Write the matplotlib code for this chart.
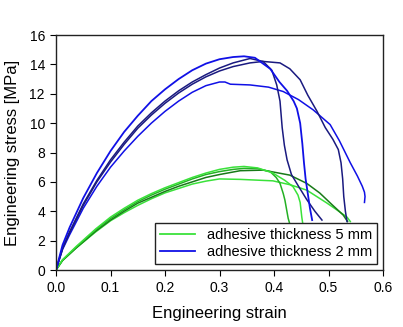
import matplotlib
matplotlib.use("Agg")
import matplotlib.pyplot as plt

plt.rcParams['font.family'] = ['Liberation Sans', 'DejaVu Sans']

# ---- 2 mm adhesive (blue) ----
b1_strain = [0, 0.012, 0.025, 0.05, 0.075, 0.1, 0.125, 0.15, 0.175, 0.2, 0.225, 0.25, 0.275, 0.3,
             0.325, 0.345, 0.365, 0.393, 0.41, 0.424, 0.436, 0.442, 0.448, 0.452, 0.455, 0.458,
             0.462, 0.466, 0.47]
b1_stress = [0, 1.7, 2.9, 4.9, 6.6, 8.1, 9.4, 10.5, 11.5, 12.3, 13.0, 13.6, 14.05, 14.35,
             14.5, 14.55, 14.45, 13.7, 12.8, 12.2, 11.5, 11.0, 10.0, 8.6, 7.3, 6.2,
             5.2, 4.2, 3.4]

n1_strain = [0, 0.012, 0.025, 0.05, 0.075, 0.1, 0.125, 0.15, 0.175, 0.2, 0.225, 0.25, 0.275, 0.3,
             0.325, 0.356, 0.38, 0.396, 0.405, 0.411, 0.415, 0.419, 0.424, 0.432, 0.445, 0.46,
             0.475, 0.488]
n1_stress = [0, 1.5, 2.6, 4.5, 6.1, 7.5, 8.7, 9.8, 10.7, 11.5, 12.2, 12.8, 13.3, 13.75,
             14.1, 14.4, 14.2, 13.6, 12.6, 11.5, 9.7, 8.5, 7.5, 6.5, 5.7, 4.8,
             4.0, 3.4]

n2_strain = [0, 0.012, 0.025, 0.05, 0.075, 0.1, 0.125, 0.15, 0.175, 0.2, 0.225, 0.25, 0.275, 0.3,
             0.325, 0.356, 0.38, 0.411, 0.429, 0.448, 0.462, 0.479, 0.494, 0.508, 0.518, 0.523,
             0.526, 0.528, 0.531, 0.534]
n2_stress = [0, 1.45, 2.55, 4.4, 6.0, 7.35, 8.55, 9.65, 10.55, 11.35, 12.05, 12.65, 13.15, 13.55,
             13.85, 14.1, 14.2, 14.1, 13.7, 12.95, 11.9, 10.8, 9.7, 8.9, 8.2, 7.3,
             6.2, 5.0, 4.0, 3.3]

b4_strain = [0, 0.012, 0.025, 0.05, 0.075, 0.1, 0.125, 0.15, 0.175, 0.2, 0.225, 0.25, 0.275, 0.3,
             0.31, 0.32, 0.356, 0.39, 0.417, 0.445, 0.472, 0.503, 0.52, 0.54, 0.553, 0.562,
             0.566, 0.567, 0.566]
b4_stress = [0, 1.4, 2.4, 4.2, 5.7, 7.0, 8.1, 9.1, 10.0, 10.8, 11.5, 12.1, 12.55, 12.8,
             12.8, 12.65, 12.6, 12.45, 12.15, 11.6, 10.9, 9.9, 8.8, 7.3, 6.4, 5.7,
             5.3, 5.0, 4.6]

# ---- 5 mm adhesive (green) ----
g1_strain = [0, 0.012, 0.037, 0.073, 0.1, 0.125, 0.15, 0.175, 0.2, 0.225, 0.25, 0.275, 0.3, 0.325,
             0.345, 0.37, 0.398, 0.42, 0.435, 0.444, 0.448, 0.451, 0.453]
g1_stress = [0, 0.7, 1.6, 2.8, 3.6, 4.2, 4.75, 5.2, 5.6, 5.95, 6.3, 6.6, 6.85, 7.0,
             7.05, 6.95, 6.6, 6.1, 5.67, 5.1, 4.6, 3.6, 3.1]

g2_strain = [0, 0.012, 0.037, 0.073, 0.1, 0.125, 0.15, 0.175, 0.2, 0.225, 0.25, 0.275, 0.3, 0.325,
             0.345, 0.37, 0.393, 0.404, 0.411, 0.417, 0.42, 0.426, 0.43]
g2_stress = [0, 0.68, 1.55, 2.75, 3.5, 4.1, 4.65, 5.1, 5.5, 5.85, 6.2, 6.5, 6.7, 6.85,
             6.92, 6.9, 6.7, 6.3, 5.9, 5.2, 4.76, 3.52, 3.0]

g3_strain = [0, 0.012, 0.037, 0.073, 0.1, 0.125, 0.15, 0.175, 0.2, 0.225, 0.25, 0.275, 0.3, 0.338,
             0.38, 0.429, 0.46, 0.484, 0.505, 0.527, 0.535]
g3_stress = [0, 0.65, 1.5, 2.65, 3.4, 4.0, 4.55, 4.95, 5.35, 5.7, 6.0, 6.3, 6.5, 6.76,
             6.8, 6.46, 5.9, 5.24, 4.5, 3.74, 3.3]

g4_strain = [0, 0.012, 0.037, 0.073, 0.1, 0.125, 0.15, 0.175, 0.2, 0.225, 0.25, 0.275, 0.3, 0.338,
             0.398, 0.43, 0.46, 0.497, 0.515, 0.534, 0.54]
g4_stress = [0, 0.65, 1.5, 2.6, 3.35, 3.9, 4.4, 4.85, 5.25, 5.55, 5.85, 6.05, 6.2, 6.17,
             6.07, 5.8, 5.44, 4.56, 4.1, 3.6, 3.3]

x_ticks = [0.0, 0.1, 0.2, 0.3, 0.4, 0.5, 0.6]
y_ticks = [0, 2, 4, 6, 8, 10, 12, 14, 16]

BRIGHT_BLUE = '#1010e6'
NAVY = '#1a1a80'
BRIGHT_GREEN = '#3ae23a'
MID_GREEN = '#24b024'
DARK_GREEN = '#187a18'

fig = plt.figure(figsize=(4.03, 3.27), dpi=100)
ax = fig.add_axes([56/403, 1-270/327, (383-56)/403, (270-35)/327])

lw = 1.1
ax.plot(g4_strain, g4_stress, color=BRIGHT_GREEN, lw=lw)
ax.plot(g3_strain, g3_stress, color=DARK_GREEN, lw=lw)
ax.plot(g2_strain, g2_stress, color=MID_GREEN, lw=lw)
ax.plot(g1_strain, g1_stress, color=BRIGHT_GREEN, lw=lw)
ax.plot(b4_strain, b4_stress, color=BRIGHT_BLUE, lw=lw)
ax.plot(n2_strain, n2_stress, color=NAVY, lw=lw)
ax.plot(n1_strain, n1_stress, color=NAVY, lw=lw)
ax.plot(b1_strain, b1_stress, color=BRIGHT_BLUE, lw=1.3)

h5, = ax.plot([], [], color=BRIGHT_GREEN, lw=1.3, label='adhesive thickness 5 mm')
h2, = ax.plot([], [], color=BRIGHT_BLUE, lw=1.3, label='adhesive thickness 2 mm')

ax.set_xlim(0, 0.6)
ax.set_ylim(0, 16)
ax.set_xticks(x_ticks)
ax.set_xticklabels([f"{v:.1f}" for v in x_ticks])
ax.set_yticks(y_ticks)
ax.set_yticklabels([str(v) for v in y_ticks])
ax.tick_params(direction='out', length=4, width=0.8, labelsize=10, pad=4)
for s in ax.spines.values():
    s.set_linewidth(1.0)
    s.set_color('#222222')

ax.set_xlabel('Engineering strain', fontsize=12, labelpad=8)
ax.set_ylabel('Engineering stress [MPa]', fontsize=12, labelpad=7)

leg = ax.legend(handles=[h5, h2], loc='lower right', bbox_to_anchor=(0.982, 0.026),
                borderaxespad=0, fontsize=10.5, frameon=True, fancybox=False,
                edgecolor='#222222', framealpha=1, handlelength=2.4, handletextpad=0.8,
                borderpad=0.35, labelspacing=0.2)
leg.get_frame().set_linewidth(1.0)

fig.savefig('out.png', dpi=100)
